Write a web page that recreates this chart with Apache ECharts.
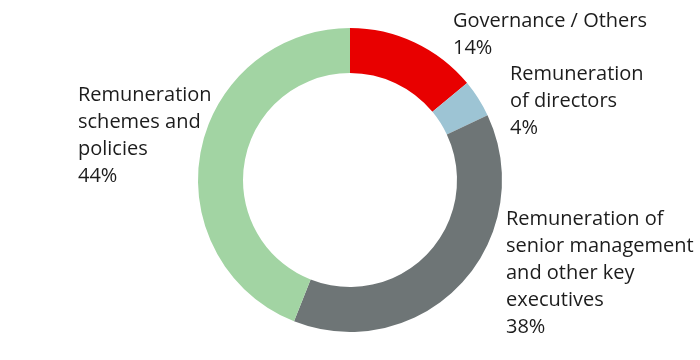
<!DOCTYPE html>
<html><head><meta charset="utf-8">
<script src="https://cdn.jsdelivr.net/npm/echarts@6/dist/echarts.min.js"></script>
<style>html,body{margin:0;padding:0;background:#fff}#c{width:700px;height:360px}</style>
</head><body><div id="c"></div>
<script>
var categories = ["Governance / Others", "Remuneration\nof directors", "Remuneration of\nsenior management\nand other key\nexecutives", "Remuneration\nschemes and\npolicies"];
var values = [14, 4, 38, 44];
var colors = ["#e80000", "#9dc4d4", "#6e7576", "#a2d4a3"];
// label anchor (left x, vertical middle y) per slice
var labelPos = [[453, 35], [510, 101], [506, 273], [78, 136]];

var chart = echarts.init(document.getElementById('c'), null, {renderer: 'canvas'});
chart.setOption({
  animation: false,
  series: [{
    type: 'pie',
    center: [350, 180],
    radius: [107, 152],
    startAngle: 90,
    clockwise: true,
    data: categories.map(function (n, i) { return {name: n, value: values[i], itemStyle: {color: colors[i]}}; }),
    label: {
      show: true,
      position: 'outside',
      formatter: function (p) { return p.name + '\n' + p.value + '%'; },
      fontFamily: 'Open Sans',
      fontSize: 20,
      lineHeight: 27,
      color: '#1c1c1c',
      align: 'left',
      overflow: 'none',
      width: 300
    },
    labelLine: {show: false},
    labelLayout: function (p) {
      var pos = labelPos[p.dataIndex];
      return {x: pos[0], y: pos[1], align: 'left', verticalAlign: 'middle', hideOverlap: false};
    },
    emphasis: {disabled: true}
  }]
});
</script></body></html>
